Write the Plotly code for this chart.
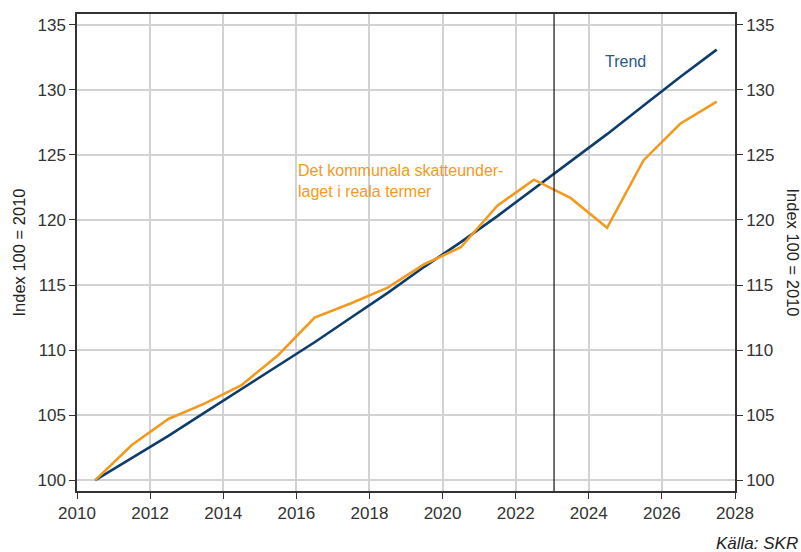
import plotly.graph_objects as go

# Annual observations, plotted at mid-year
years = [2010.5, 2011.5, 2012.5, 2013.5, 2014.5, 2015.5, 2016.5, 2017.5, 2018.5,
         2019.5, 2020.5, 2021.5, 2022.5, 2023.5, 2024.5, 2025.5, 2026.5, 2027.5]

# Real municipal tax base, index 100 = 2010
skatteunderlag = [100.0, 102.7, 104.7, 105.9, 107.3, 109.6, 112.5, 113.6, 114.8,
                  116.6, 117.9, 121.1, 123.1, 121.7, 119.4, 124.6, 127.4, 129.1]

# Trend
trend = [100.0, 101.7, 103.4, 105.2, 107.0, 108.8, 110.6, 112.5, 114.4,
         116.4, 118.3, 120.3, 122.4, 124.5, 126.6, 128.8, 131.0, 133.1]

forecast_start = 2023.05

x_ticks = [2010, 2012, 2014, 2016, 2018, 2020, 2022, 2024, 2026, 2028]
y_ticks = [100, 105, 110, 115, 120, 125, 130, 135]
y_range = [99.16, 135.84]

ORANGE = "#F39A1E"
BLUE = "#0E3D6C"
AXIS = "#333333"
GRID = "#d2d2d2"
FONT = "Liberation Sans, Arial, sans-serif"

fig = go.Figure()

fig.add_trace(go.Scatter(x=years, y=trend, mode="lines",
                         line=dict(color=BLUE, width=2.6), name="Trend"))
fig.add_trace(go.Scatter(x=years, y=skatteunderlag, mode="lines",
                         line=dict(color=ORANGE, width=2.6),
                         name="Det kommunala skatteunderlaget i reala termer"))
# invisible trace to carry the right-hand axis
fig.add_trace(go.Scatter(x=[years[0]], y=[skatteunderlag[0]], yaxis="y2",
                         mode="markers", marker=dict(opacity=0), hoverinfo="skip",
                         showlegend=False))

fig.add_shape(type="line", xref="x", yref="paper", x0=forecast_start, x1=forecast_start,
              y0=0, y1=1, line=dict(color="#111111", width=1.2))

tickfont = dict(family=FONT, size=17, color=AXIS)

fig.update_layout(
    width=801, height=552,
    margin=dict(l=77, r=66, t=12, b=61),
    paper_bgcolor="white", plot_bgcolor="white",
    showlegend=False,
    font=dict(family=FONT),
    xaxis=dict(range=[2010, 2028], tickvals=x_ticks, ticktext=[str(t) for t in x_ticks],
               showgrid=True, gridcolor=GRID, gridwidth=1.5,
               showline=True, linecolor=AXIS, linewidth=1.5, mirror=True,
               ticks="outside", ticklen=6, tickcolor=AXIS, tickwidth=1.2,
               tickfont=tickfont, zeroline=False),
    yaxis=dict(range=y_range, tickvals=y_ticks, ticktext=[str(t) for t in y_ticks],
               showgrid=True, gridcolor=GRID, gridwidth=1.5,
               showline=True, linecolor=AXIS, linewidth=1.5,
               ticks="outside", ticklen=6, tickcolor=AXIS, tickwidth=1.2,
               tickfont=tickfont, zeroline=False),
    yaxis2=dict(range=y_range, tickvals=y_ticks, ticktext=[str(t) for t in y_ticks],
                overlaying="y", side="right", showgrid=False,
                showline=True, linecolor=AXIS, linewidth=1.5,
                ticks="outside", ticklen=6, tickcolor=AXIS, tickwidth=1.2,
                tickfont=tickfont, zeroline=False),
)

title_font = dict(family=FONT, size=16.5, color="#222222")
fig.add_annotation(text="Index 100 = 2010", xref="paper", yref="paper", x=0, y=0.5,
                   xanchor="center", yanchor="middle",
                   xshift=-59, textangle=-90, showarrow=False, font=title_font)
fig.add_annotation(text="Index 100 = 2010", xref="paper", yref="paper", x=1, y=0.5,
                   xanchor="center", yanchor="middle",
                   xshift=58, textangle=90, showarrow=False, font=title_font)

fig.add_annotation(text="Trend", x=2025.0, y=132.15, xref="x", yref="y",
                   showarrow=False, font=dict(family=FONT, size=16, color="#2A578A"))
fig.add_annotation(text="Det kommunala skatteunder-<br>laget i reala termer",
                   x=2016.0, y=123.0, xref="x", yref="y", xanchor="left", align="left",
                   showarrow=False, font=dict(family=FONT, size=16, color=ORANGE))

fig.add_annotation(text="<i>Källa: SKR</i>", xref="paper", yref="paper", x=1, y=0,
                   xanchor="right", yanchor="middle", xshift=65, yshift=-52,
                   showarrow=False, font=dict(family=FONT, size=17, color="#222222"))

fig.write_html("out.html")
